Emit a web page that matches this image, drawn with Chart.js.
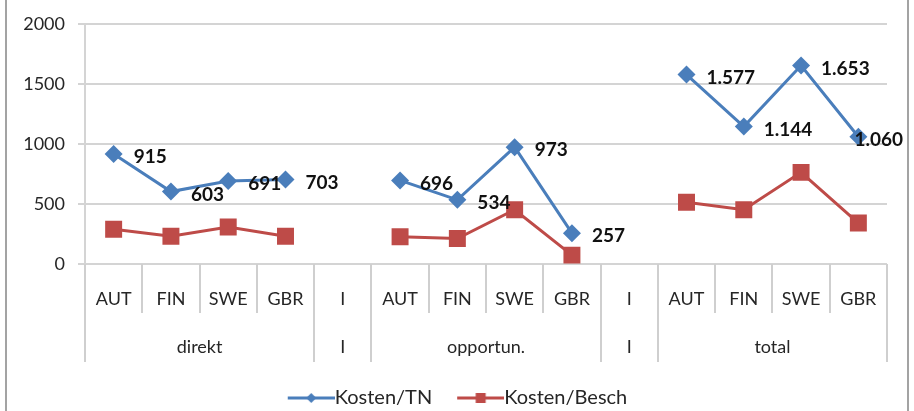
<!DOCTYPE html>
<html>
<head>
<meta charset="utf-8">
<script src="https://cdn.jsdelivr.net/npm/chart.js@4.4.1/dist/chart.umd.min.js"></script>
<style>
  html, body { margin: 0; padding: 0; background: #fff; }
  #wrap { position: relative; width: 914px; height: 411px; overflow: hidden; }
  #frame { position: absolute; left: 5px; top: 0; width: 900px; height: 411px;
           border-left: 2px solid #a3a3a3; border-right: 2px solid #a3a3a3; pointer-events: none; }
</style>
</head>
<body>
<div id="wrap">
  <canvas id="chart" width="914" height="411"></canvas>
  <div id="frame"></div>
</div>
<script>
// data
const categories = ['AUT', 'FIN', 'SWE', 'GBR', 'I', 'AUT', 'FIN', 'SWE', 'GBR', 'I', 'AUT', 'FIN', 'SWE', 'GBR'];
const groupLabels = ['direkt', 'I', 'opportun.', 'I', 'total'];
const groupSizes = [4, 1, 4, 1, 4];
const kostenTN = [915, 603, 691, 703, null, 696, 534, 973, 257, null, 1577, 1144, 1653, 1060];
const kostenBesch = [290, 231, 308, 231, null, 226, 212, 452, 74, null, 515, 452, 763, 341];
const yTicks = [0, 500, 1000, 1500, 2000];

const BLUE = '#4a7ebb';
const RED = '#be4b48';
const FONT = 'Lato';

Chart.defaults.font.family = FONT;
Chart.defaults.font.size = 18;
Chart.defaults.color = '#262626';

// german thousands separator: 1577 -> 1.577
function fmt(v) {
    return String(v).replace(/\B(?=(\d{3})+(?!\d))/g, '.');
}

// legend icon: line with marker, shifted right so it touches the text
function legendIcon(color, shape) {
    const c = document.createElement('canvas');
    c.width = 58; c.height = 16;
    const g = c.getContext('2d');
    g.strokeStyle = color; g.lineWidth = 3;
    g.beginPath(); g.moveTo(11, 8); g.lineTo(58, 8); g.stroke();
    g.fillStyle = color;
    g.beginPath();
    const m = 34.5;
    if (shape == 'diamond') {
        g.moveTo(m, 3); g.lineTo(m + 5, 8); g.lineTo(m, 13); g.lineTo(m - 5, 8);
    } else {
        g.rect(m - 5, 3, 10, 10);
    }
    g.fill();
    return c;
}
const icons = [legendIcon(BLUE, 'diamond'), legendIcon(RED, 'square')];

// value labels next to the blue points
const valueLabels = {
    id: 'valueLabels',
    afterDatasetsDraw(chart) {
        const ctx = chart.ctx;
        const meta = chart.getDatasetMeta(0);
        ctx.save();
        ctx.font = 'bold 19px ' + FONT;
        ctx.fillStyle = '#111';
        ctx.textAlign = 'left';
        ctx.textBaseline = 'middle';
        meta.data.forEach((pt, i) => {
            const v = kostenTN[i];
            if (v == null) return;
            const txt = fmt(v);
            const w = ctx.measureText(txt).width;
            let x = pt.x + 20;
            if (x + w > 903) x = 903 - w;
            ctx.fillText(txt, x, pt.y + 3);
        });
        ctx.restore();
    }
};

// second row of the category axis with divider lines
const groupAxis = {
    id: 'groupAxis',
    afterDraw(chart) {
        const xs = chart.scales.x;
        const ctx = chart.ctx;
        const top = chart.chartArea.bottom;
        const n = categories.length;
        const edge = (i) => {
            if (i <= 0) return xs.left;
            if (i >= n) return xs.right;
            return (xs.getPixelForValue(i - 1) + xs.getPixelForValue(i)) / 2;
        };
        const bounds = [0];
        groupSizes.forEach(s => bounds.push(bounds[bounds.length - 1] + s));

        ctx.save();
        ctx.strokeStyle = '#cfcfcf';
        ctx.lineWidth = 2;
        for (let i = 0; i <= n; i++) {
            const long = bounds.includes(i);
            const x = Math.round(edge(i));
            ctx.beginPath();
            ctx.moveTo(x, top);
            ctx.lineTo(x, top + (long ? 98 : 49));
            ctx.stroke();
        }
        ctx.fillStyle = '#262626';
        ctx.font = '18px ' + FONT;
        ctx.textAlign = 'center';
        ctx.textBaseline = 'middle';
        groupLabels.forEach((g, k) => {
            const cx = (edge(bounds[k]) + edge(bounds[k + 1])) / 2;
            ctx.fillText(g, cx, top + 83);
        });
        ctx.restore();
    }
};

new Chart(document.getElementById('chart'), {
    type: 'line',
    data: {
        labels: categories,
        datasets: [{
            label: 'Kosten/TN',
            data: kostenTN,
            borderColor: BLUE,
            backgroundColor: BLUE,
            borderWidth: 3,
            pointStyle: 'rectRot',
            pointRadius: 9,
            pointBorderWidth: 0,
            pointBackgroundColor: BLUE,
            tension: 0,
            spanGaps: false,
            order: 1
        }, {
            label: 'Kosten/Besch',
            data: kostenBesch,
            borderColor: RED,
            backgroundColor: RED,
            borderWidth: 3,
            pointStyle: 'rect',
            pointRadius: 12,
            pointBorderWidth: 0,
            pointBackgroundColor: RED,
            tension: 0,
            spanGaps: false,
            order: 2
        }]
    },
    options: {
        responsive: false,
        animation: false,
        devicePixelRatio: 1,
        layout: {
            padding: { left: 0, right: 0, top: 22, bottom: -7 }
        },
        scales: {
            x: {
                offset: true,
                grid: { display: false, drawTicks: false },
                border: { display: false },
                ticks: { padding: 24, maxRotation: 0, autoSkip: false, color: '#262626' },
                afterFit: (s) => { s.height = 100; }
            },
            y: {
                min: 0,
                max: 2000,
                afterBuildTicks: (s) => { s.ticks = yTicks.map(v => ({ value: v })); },
                ticks: { padding: 13, color: '#262626', callback: (v) => String(v) },
                grid: { color: '#d4d4d4', lineWidth: 2, tickLength: 7 },
                border: { color: '#d4d4d4', width: 2 },
                afterFit: (s) => { s.width = 85; }
            },
            // empty right margin, keeps the legend centred on the whole canvas
            yRight: {
                position: 'right',
                display: true,
                grid: { display: false, drawTicks: false },
                border: { display: false },
                ticks: { display: false },
                afterFit: (s) => { s.width = 27; }
            }
        },
        plugins: {
            tooltip: { enabled: false },
            legend: {
                position: 'bottom',
                labels: {
                    usePointStyle: true,
                    pointStyleWidth: 38,
                    padding: 24,
                    color: '#262626',
                    font: { size: 20 },
                    generateLabels: (chart) => {
                        const items = Chart.defaults.plugins.legend.labels.generateLabels(chart);
                        items.forEach((it, i) => { it.pointStyle = icons[i]; });
                        return items;
                    }
                }
            }
        }
    },
    plugins: [valueLabels, groupAxis]
});
</script>
</body>
</html>
